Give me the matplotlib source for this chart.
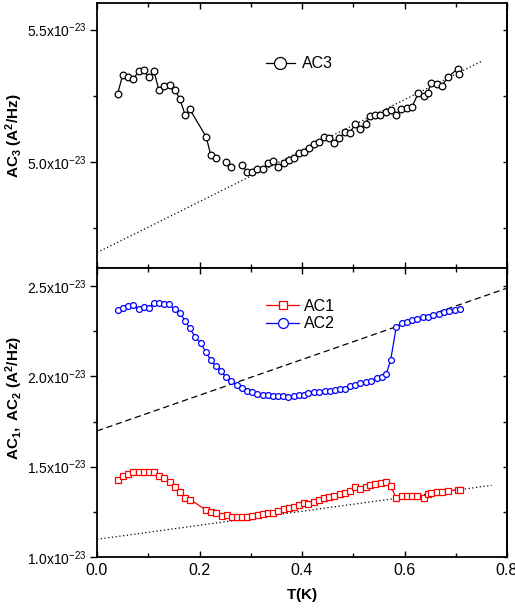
import matplotlib
matplotlib.use('Agg')
import matplotlib.pyplot as plt
import numpy as np
from matplotlib.ticker import MultipleLocator, FixedLocator, FuncFormatter

plt.rcParams['font.family'] = ['Liberation Sans', 'DejaVu Sans']
plt.rcParams['mathtext.fontset'] = 'custom'
plt.rcParams['mathtext.rm'] = 'Liberation Sans'
plt.rcParams['mathtext.bf'] = 'Liberation Sans:bold'
plt.rcParams['mathtext.it'] = 'Liberation Sans:italic'

nan = np.nan
# values in units of 1e-23 A^2/Hz
T3 = [0.040, 0.050, 0.060, 0.071, 0.081, 0.091, 0.101, 0.111, 0.121, 0.131, 0.142, 0.152, 0.162,
      0.172, 0.181, 0.213, 0.222, 0.232, 0.242, 0.252, 0.262, 0.272, 0.282, 0.293, 0.303, 0.313,
      0.323, 0.334, 0.343, 0.354, 0.364, 0.374, 0.384, 0.394, 0.404, 0.414, 0.423, 0.433, 0.443,
      0.453, 0.463, 0.473, 0.483, 0.493, 0.504, 0.513, 0.524, 0.533, 0.543, 0.553, 0.563, 0.574,
      0.584, 0.594, 0.604, 0.615, 0.627, 0.639, 0.645, 0.652, 0.663, 0.673, 0.685, 0.704, 0.707]
AC3 = [5.256, 5.327, 5.321, 5.312, 5.343, 5.348, 5.320, 5.343, 5.270, 5.288, 5.291, 5.273, 5.236,
       5.177, 5.199, 5.095, 5.026, 5.014, nan, 4.999, 4.980, nan, 4.990, 4.962, 4.961, 4.975,
       4.974, 4.995, 5.004, 4.982, 4.995, 5.008, 5.014, 5.035, 5.038, 5.051, 5.068, 5.074, 5.095,
       5.091, 5.073, 5.089, 5.112, 5.110, 5.143, 5.124, 5.145, 5.173, 5.177, 5.177, 5.188, 5.195,
       5.179, 5.199, 5.202, 5.209, 5.261, 5.249, 5.262, 5.298, 5.294, 5.287, 5.321, 5.352, 5.331]

T2 = [0.040, 0.050, 0.060, 0.071, 0.081, 0.091, 0.101, 0.111, 0.121, 0.131, 0.141, 0.152, 0.162,
      0.172, 0.181, 0.192, 0.202, 0.212, 0.222, 0.232, 0.242, 0.252, 0.262, 0.273, 0.283, 0.293,
      0.303, 0.313, 0.323, 0.333, 0.343, 0.353, 0.363, 0.373, 0.384, 0.394, 0.404, 0.412, 0.423,
      0.433, 0.444, 0.454, 0.464, 0.474, 0.484, 0.494, 0.504, 0.514, 0.525, 0.535, 0.546, 0.556,
      0.564, 0.573, 0.584, 0.595, 0.604, 0.615, 0.625, 0.636, 0.646, 0.656, 0.667, 0.677, 0.687,
      0.698, 0.708]
AC2 = [2.366, 2.379, 2.388, 2.394, 2.375, 2.386, 2.380, 2.405, 2.408, 2.401, 2.399, 2.371, 2.353,
       2.305, 2.266, 2.216, 2.186, 2.136, 2.090, 2.055, 2.029, 1.994, 1.972, 1.952, 1.935, 1.920,
       1.911, 1.904, 1.898, 1.895, 1.892, 1.891, 1.889, 1.887, 1.892, 1.895, 1.898, 1.907, 1.911,
       1.911, 1.917, 1.920, 1.924, 1.931, 1.930, 1.945, 1.952, 1.965, 1.968, 1.976, 1.989, 1.994,
       2.011, 2.090, 2.275, 2.294, 2.303, 2.310, 2.319, 2.327, 2.330, 2.340, 2.347, 2.355, 2.360,
       2.368, 2.375]

T1 = [0.040, 0.050, 0.060, 0.071, 0.081, 0.091, 0.101, 0.111, 0.121, 0.131, 0.142, 0.152, 0.162,
      0.172, 0.182, 0.213, 0.222, 0.233, 0.243, 0.253, 0.263, 0.273, 0.283, 0.293, 0.303, 0.314,
      0.323, 0.334, 0.343, 0.354, 0.364, 0.374, 0.384, 0.394, 0.404, 0.412, 0.423, 0.433, 0.443,
      0.453, 0.463, 0.474, 0.483, 0.493, 0.504, 0.513, 0.524, 0.533, 0.543, 0.554, 0.564, 0.573,
      0.584, 0.595, 0.604, 0.614, 0.625, 0.639, 0.645, 0.652, 0.663, 0.674, 0.685, 0.704, 0.708]
AC1 = [1.429, 1.446, 1.460, 1.468, 1.473, 1.468, 1.471, 1.473, 1.446, 1.436, 1.416, 1.388, 1.359,
       1.329, 1.318, 1.259, 1.248, 1.241, 1.227, 1.233, 1.224, 1.224, 1.224, 1.224, 1.227, 1.233,
       1.238, 1.242, 1.246, 1.253, 1.263, 1.270, 1.277, 1.287, 1.298, 1.296, 1.307, 1.316, 1.324,
       1.331, 1.340, 1.348, 1.353, 1.366, 1.385, 1.374, 1.388, 1.396, 1.405, 1.412, 1.416, 1.394,
       1.324, 1.335, 1.336, 1.336, 1.336, 1.329, 1.349, 1.353, 1.360, 1.359, 1.368, 1.371, 1.371]

# linear fits: intercept, slope, T range
fit3 = (4.658, 0.962, 0.0, 0.75)
fit2 = (1.698, 0.988, 0.0, 0.80)
fit1 = (1.098, 0.388, 0.0, 0.77)

xticks = [0.0, 0.2, 0.4, 0.6, 0.8]
yticks_top = [5.0, 5.5]
yticks_bot = [1.0, 1.5, 2.0, 2.5]


def fmt(v, pos):
    return '%.1fx10$^{-23}$' % v


def fitline(ax, f, **kw):
    t = np.array([f[2], f[3]])
    ax.plot(t, f[0] + f[1] * t, color='black', lw=0.9, **kw)


def style(ax, ylim, yt, ytminor):
    ax.set_xlim(0, 0.8)
    ax.set_ylim(*ylim)
    ax.xaxis.set_major_locator(FixedLocator(xticks))
    ax.xaxis.set_minor_locator(MultipleLocator(0.1))
    ax.yaxis.set_major_locator(FixedLocator(yt))
    ax.yaxis.set_minor_locator(MultipleLocator(ytminor))
    ax.yaxis.set_major_formatter(FuncFormatter(fmt))
    ax.tick_params(axis='x', which='both', direction='in', top=True, bottom=True,
                   labelsize=11.5, width=1, pad=4)
    ax.tick_params(axis='x', which='major', length=4)
    ax.tick_params(axis='x', which='minor', length=3)
    ax.tick_params(axis='y', which='both', direction='out', left=True, right=False,
                   labelsize=10, width=1, pad=2)
    ax.tick_params(axis='y', which='major', length=5)
    ax.tick_params(axis='y', which='minor', length=3)
    for s in ax.spines.values():
        s.set_linewidth(1.3)
    sec = ax.secondary_yaxis('right')
    sec.yaxis.set_major_locator(FixedLocator(yt))
    sec.yaxis.set_minor_locator(MultipleLocator(ytminor))
    sec.tick_params(which='both', direction='in', length=3, width=1, labelright=False)
    sec.spines['right'].set_linewidth(1.3)


fig = plt.figure(figsize=(5.15, 6.1), dpi=100)
ax1 = fig.add_axes([97 / 515, 1 - 268 / 610, 410 / 515, 265 / 610])
ax2 = fig.add_axes([97 / 515, 1 - 557 / 610, 410 / 515, 289 / 610])

# top panel
fitline(ax1, fit3, ls=(0, (1, 2)))
ax1.plot(T3, AC3, color='black', lw=0.9, marker='o', ms=4.8, mfc='white', mec='black',
         mew=0.9, label='AC3')
style(ax1, (4.6, 5.6), yticks_top, 0.25)
ax1.tick_params(axis='x', labelbottom=False)
ax1.set_ylabel(r'$\mathbf{AC_3\ (A^2/Hz)}$', fontsize=11)
ax1.yaxis.set_label_coords(-0.175, 0.5)
ax1.legend(loc='center left', bbox_to_anchor=(0.412, 0.77), frameon=False, fontsize=11.5,
           handlelength=1.8, handletextpad=0.45, markerscale=1.8, borderpad=0,
           borderaxespad=0)

# bottom panel
fitline(ax2, fit2, ls=(0, (5, 3)))
fitline(ax2, fit1, ls=(0, (1, 2)))
ax2.plot(T1, AC1, color='red', lw=0.9, marker='s', ms=3.8, mfc='white', mec='red',
         mew=0.9, label='AC1')
ax2.plot(T2, AC2, color='blue', lw=0.9, marker='o', ms=4.2, mfc='white', mec='blue',
         mew=0.9, label='AC2')
style(ax2, (1.0, 2.6), yticks_bot, 0.25)
ax2.set_xlabel(r'$\mathbf{T(K)}$', fontsize=11, labelpad=6)
ax2.set_ylabel(r'$\mathbf{AC_1,\ AC_2\ (A^2/Hz)}$', fontsize=11)
ax2.yaxis.set_label_coords(-0.175, 0.55)
ax2.legend(loc='center left', bbox_to_anchor=(0.412, 0.837), frameon=False, fontsize=11.5,
           handlelength=2.1, handletextpad=0.3, markerscale=1.7, labelspacing=0.15,
           borderpad=0, borderaxespad=0)

fig.savefig('out.png', dpi=100)
